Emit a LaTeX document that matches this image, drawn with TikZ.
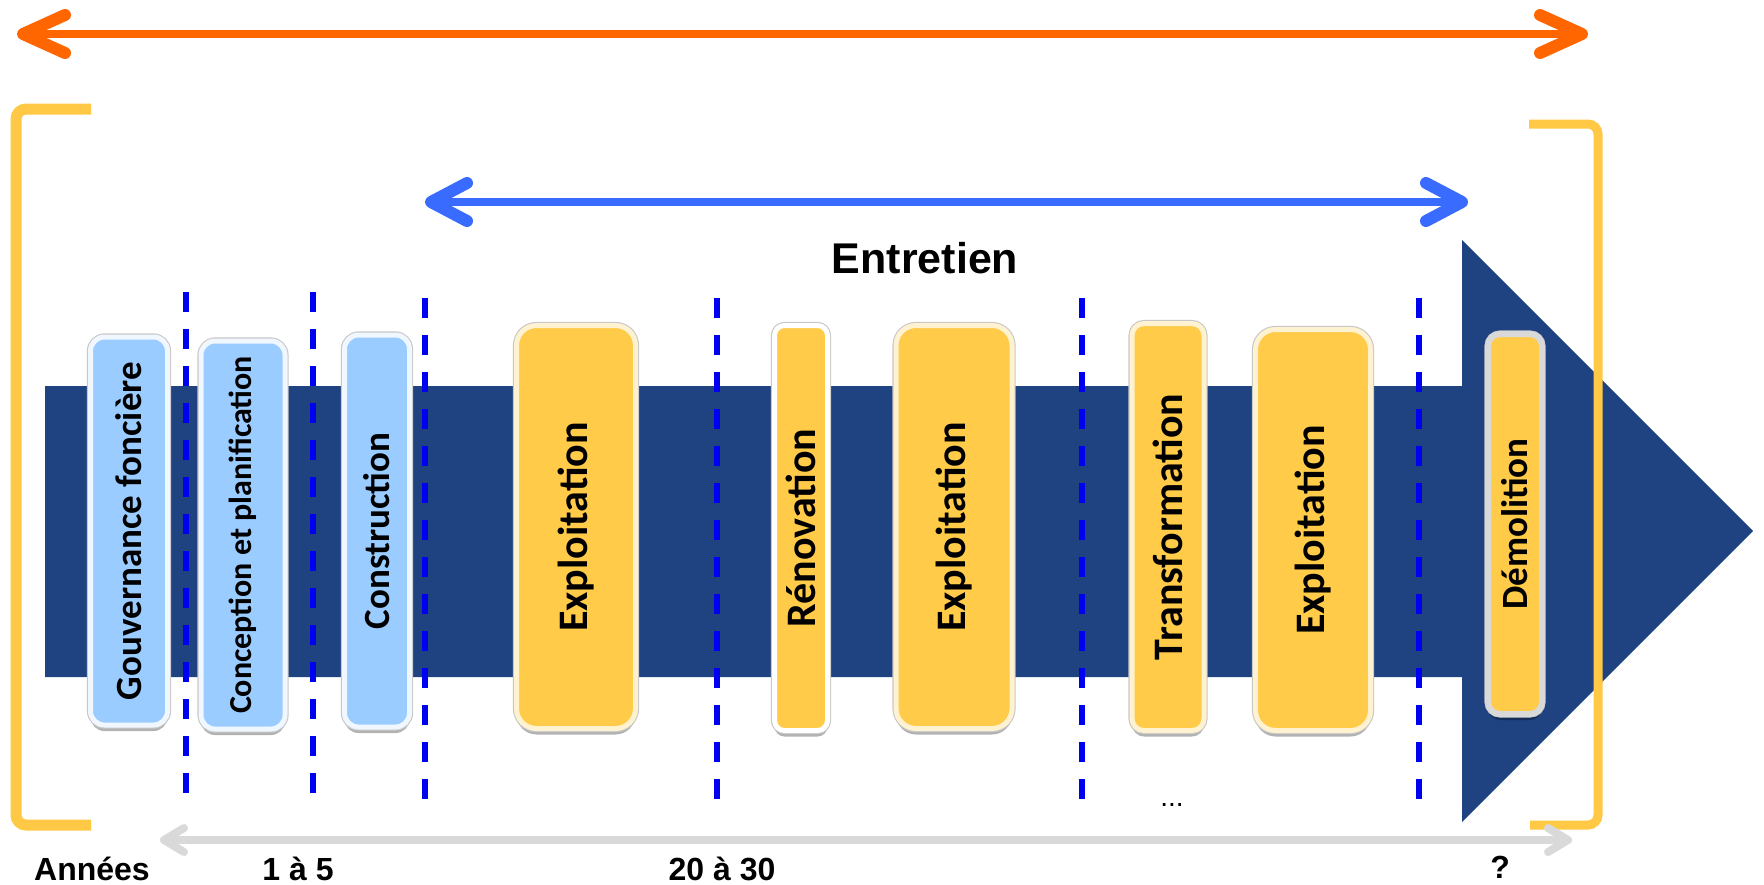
\documentclass[tikz,border=0pt]{standalone}
\usepackage{fontspec}
\setmainfont{Liberation Sans}
\newfontfamily\phasefont{Carlito}
\usepackage{tikz}
\usetikzlibrary{arrows.meta, shadows}

\definecolor{navy}{HTML}{1E4380}
\definecolor{boxblue}{HTML}{9ACCFF}
\definecolor{boxyellow}{HTML}{FFCB48}
\definecolor{brackyellow}{HTML}{FFC845}
\definecolor{cutblue}{HTML}{0000F0}
\definecolor{arrowblue}{HTML}{3A6BFF}
\definecolor{arroworange}{HTML}{FF6600}
\definecolor{axisgray}{HTML}{D9D9D9}

\tikzstyle{phase} = [rounded corners=7pt, inner sep=0pt, line width=2.5pt,
  font=\phasefont\bfseries\fontsize{21}{24}\selectfont,
  drop shadow={shadow xshift=0pt, shadow yshift=-3pt, opacity=0.3, fill=black},
  preaction={draw=black!22, line width=3.6pt}]
\tikzstyle{phaseblue} = [phase, fill=boxblue, draw=boxblue!15!white,
  font=\phasefont\bfseries\fontsize{18.5}{20}\selectfont]
\tikzstyle{phaseyellow} = [phase, fill=boxyellow, draw=boxyellow!25!white]
\tikzstyle{bracket} = [draw=brackyellow, rounded corners=5pt]
\tikzstyle{cutline} = [draw=cutblue, line width=3pt, dash pattern=on 10pt off 8.5pt]
\tikzstyle{orangearrow} = [draw=arroworange, line width=3.8pt, <->,
  >={Straight Barb[length=21pt, width=19pt, line width=6pt, round]}]
\tikzstyle{bluearrow} = [draw=arrowblue, line width=3.8pt, <->,
  >={Straight Barb[length=18pt, width=19pt, line width=6pt, round]}]
\tikzstyle{grayarrow} = [draw=axisgray, line width=4pt, <->,
  >={Straight Barb[length=10pt, width=12pt, line width=4pt, round]}]
\tikzstyle{yearlabel} = [anchor=base, inner sep=0pt, font=\bfseries\fontsize{16}{18}\selectfont]

\begin{document}
\begin{tikzpicture}[x=0.5pt, y=-0.5pt]
\useasboundingbox (0,0) rectangle (1764,884);

% Left bracket
\draw[bracket, line width=5.5pt] (91,109) -- (16,109) -- (16,825) -- (91,825);

% Big arrow: band + head
\fill[navy] (45,386) -- (1462,386) -- (1462,240) -- (1753,531) -- (1462,822)
  -- (1462,677) -- (45,677) -- cycle;

% Right bracket, drawn over the head
\draw[bracket, line width=4.5pt] (1529,124) -- (1598,124) -- (1598,825) -- (1530,825);

% Dashed cuts between phases
\foreach \x/\ya/\yb in {186/292/799, 313/292/799, 425/298/804, 717/298/804, 1082/298/804, 1419/298/804}
  \draw[cutline] (\x,\ya) -- (\x,\yb);

% Whole life span
\coordinate (lifeL) at (17,34);
\coordinate (lifeR) at (1588,34);
\draw[orangearrow] (lifeL) -- (lifeR);

% Maintenance span
\coordinate (entL) at (425,202);
\coordinate (entR) at (1468,202);
\draw[bluearrow] (entL) -- (entR);
\node (entretien) at (925,258) {\bfseries\fontsize{21.5}{24}\selectfont Entretien};

% Phases
\node[phaseblue, minimum width=38.5pt, minimum height=194pt] (gouv) at (129,531)
  {\rotatebox{90}{Gouvernance foncière}};
\node[phaseblue, minimum width=42pt, minimum height=194pt,
  font=\phasefont\bfseries\fontsize{16}{18}\selectfont] (concep) at (243,535)
  {\rotatebox{90}{Conception et planification}};
\node[phaseblue, minimum width=32.5pt, minimum height=196pt] (constr) at (377,531)
  {\rotatebox{90}{Construction}};
\node[phaseyellow, rounded corners=10pt, minimum width=59.5pt, minimum height=201.5pt] (exploitA) at (576,527)
  {\rotatebox{90}{Exploitation}};
\node[phaseyellow, draw=white, rounded corners=5pt, minimum width=26.5pt, minimum height=202.5pt] (renov) at (801,528)
  {\rotatebox{90}{Rénovation}};
\node[phaseyellow, rounded corners=10pt, minimum width=58pt, minimum height=201.5pt] (exploitB) at (954,527)
  {\rotatebox{90}{Exploitation}};
\node[phaseyellow, rounded corners=6pt, minimum width=36pt, minimum height=203.5pt] (transf) at (1168,527)
  {\rotatebox{90}{Transformation}};
\node[phaseyellow, rounded corners=10pt, minimum width=57.5pt, minimum height=200.5pt] (exploitC) at (1313,530)
  {\rotatebox{90}{Exploitation}};
\node[phaseyellow, draw=black!15, line width=3pt, rounded corners=6pt, minimum width=27pt, minimum height=190pt,
  font=\phasefont\bfseries\fontsize{18.5}{20}\selectfont] (demol) at (1515,524)
  {\rotatebox{90}{Démolition}};

% Time axis
\coordinate (axeL) at (160,840);
\coordinate (axeR) at (1572,840);
\draw[grayarrow] (axeL) -- (axeR);
\node[yearlabel] (annees) at (92,880) {Années};
\node[yearlabel] (ans1) at (298,880) {1 à 5};
\node[yearlabel] (ans2) at (722,880) {20 à 30};
\node[yearlabel] (ans3) at (1500,878) {?};
\node[anchor=base, inner sep=0pt, font=\fontsize{14}{16}\selectfont] (suite) at (1172,806) {...};
\end{tikzpicture}
\end{document}
